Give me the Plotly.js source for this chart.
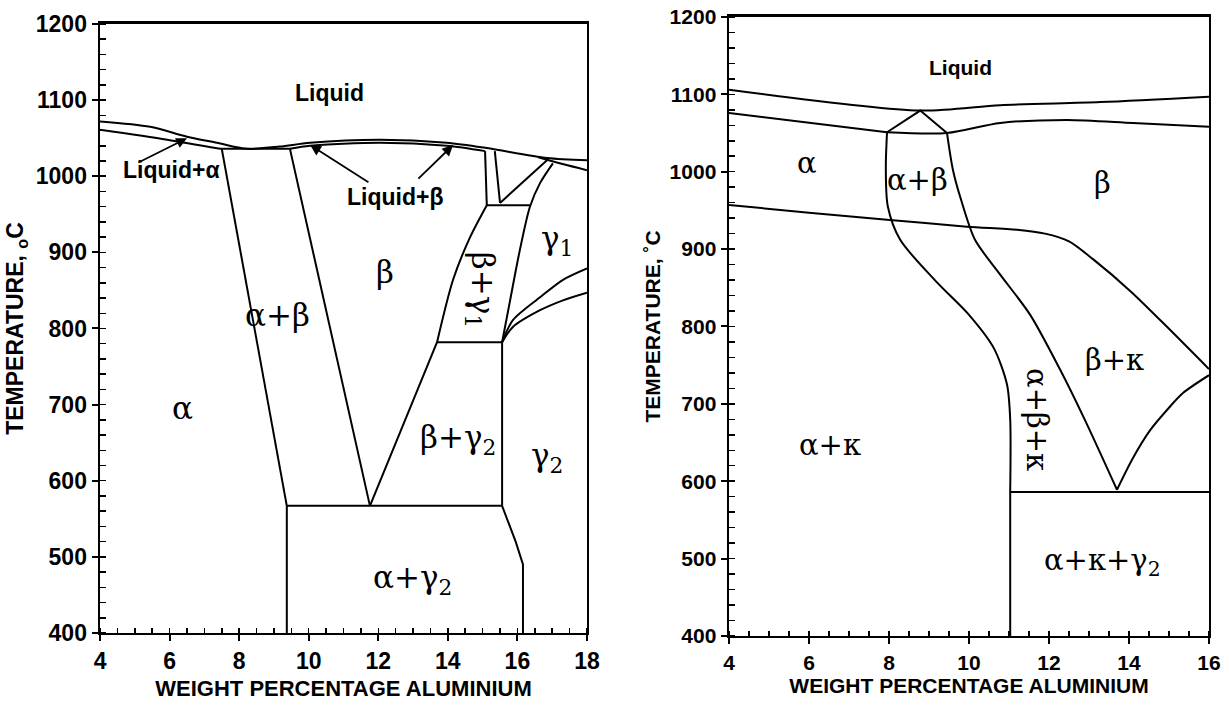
<!DOCTYPE html>
<html>
<head>
<meta charset="utf-8">
<script src="https://cdn.plot.ly/plotly-3.0.1.min.js"></script>
<style>
html,body{margin:0;padding:0;background:#fff;}
#chart{width:1229px;height:725px;}
</style>
</head>
<body>
<div id="chart"></div>
<script>
// ---------- LEFT DIAGRAM (Cu-Al binary) ----------
const L_liquidus_x = [4, 5.44, 6.5, 7.36, 8.22, 9.17, 10.04, 12.05, 13.97, 15.12, 16.85, 18];
const L_liquidus_T = [1072, 1065, 1052, 1044, 1036, 1039, 1044, 1048, 1044, 1037, 1024, 1021];
const L_solidusA_x = [4, 5.93, 7.45];
const L_solidusA_T = [1061, 1048, 1036];
const L_eutectic_x = [7.45, 9.46];
const L_eutectic_T = [1036, 1036];
const L_solidusB_x = [9.46, 10.04, 12.05, 13.97, 15.07];
const L_solidusB_T = [1036, 1040, 1044, 1040, 1033];
const L_abLeft_x = [7.5, 9.37];
const L_abLeft_T = [1036, 567];
const L_abRight_x = [9.46, 11.76];
const L_abRight_T = [1036, 567];
const L_bLow_x = [11.76, 13.69];
const L_bLow_T = [567, 782];
const L_bUp_x = [13.69, 14.15, 14.64, 15.12];
const L_bUp_T = [782, 864, 920, 962];
const L_h782_x = [13.69, 15.56];
const L_h782_T = [782, 782];
const L_h567_x = [9.37, 15.56];
const L_h567_T = [567, 567];
const L_v1556_x = [15.56, 15.56];
const L_v1556_T = [567, 782];
const L_v937_x = [9.37, 9.37];
const L_v937_T = [400, 567];
const L_g2_x = [15.56, 15.95, 16.16, 16.16];
const L_g2_T = [567, 520, 490, 400];
const L_h962_x = [15.12, 16.36];
const L_h962_T = [962, 962];
const L_bg1Right_x = [15.56, 15.79, 16.07, 16.36, 16.65, 17.02];
const L_bg1Right_T = [782, 837, 903, 960, 991, 1017];
const L_vA_x = [15.07, 15.12];
const L_vA_T = [1033, 962];
const L_vB_x = [15.35, 15.5];
const L_vB_T = [1033, 965];
const L_diag_x = [15.5, 16.85];
const L_diag_T = [965, 1021];
const L_topRight_x = [16.6, 17.3, 18];
const L_topRight_T = [1025, 1016, 1008];
const L_g1Up_x = [15.56, 15.87, 16.65, 17.31, 18];
const L_g1Up_T = [782, 811, 841, 864, 879];
const L_g1Low_x = [15.56, 15.87, 16.65, 17.31, 18];
const L_g1Low_T = [782, 802, 824, 837, 847];

// ---------- RIGHT DIAGRAM (Cu-Al-Ni-Fe) ----------
const R_liquidus_x = [4, 8.78, 10.78, 13.28, 16];
const R_liquidus_T = [1106, 1079, 1086, 1090, 1097];
const R_solidusA_x = [4, 7.95];
const R_solidusA_T = [1076, 1051];
const R_solidusB_x = [7.95, 9.45, 10.78, 12.45, 14.1, 16];
const R_solidusB_T = [1051, 1050, 1063, 1067, 1063, 1058];
const R_triangle_x = [7.95, 8.78, 9.45];
const R_triangle_T = [1051, 1079, 1050];
const R_abLeft_x = [7.95, 7.92, 7.97, 8.28, 9.2, 10.0, 10.62, 10.95, 11.03, 11.03];
const R_abLeft_T = [1051, 1005, 955, 912, 857, 815, 772, 725, 680, 586];
const R_vertical_x = [11.03, 11.03];
const R_vertical_T = [586, 400];
const R_abRight_x = [9.45, 9.6, 9.8, 10.15, 10.78, 11.53, 12.28, 12.9, 13.7];
const R_abRight_T = [1050, 1002, 964, 912, 867, 815, 744, 679, 589];
const R_kappa_x = [4, 6, 7.95, 9.95, 11.2, 11.9, 12.5, 13.1, 14.05, 15.0, 16];
const R_kappa_T = [957, 947, 938, 929, 925, 920, 910, 887, 845, 797, 745];
const R_bkLow_x = [13.7, 14.1, 14.53, 15.0, 15.35, 16];
const R_bkLow_T = [589, 630, 666, 695, 714, 737];
const R_h586_x = [11.03, 16];
const R_h586_T = [586, 586];

// ---------- region labels ----------
const L_labels = [
  {t: 'Liquid', x: 10.61, y: 1109, f: 'sans'},
  {t: 'Liquid+α', x: 6.05, y: 1008, f: 'sans'},
  {t: 'Liquid+β', x: 12.48, y: 973, f: 'sans'},
  {t: 'α', x: 6.36, y: 696, f: 'serif'},
  {t: 'α+β', x: 9.09, y: 818, f: 'serif'},
  {t: 'β', x: 12.19, y: 874, f: 'serif'},
  {t: 'β+γ<sub>1</sub>', x: 14.92, y: 851, f: 'serif', a: 90},
  {t: 'γ<sub>1</sub>', x: 17.14, y: 916, f: 'serif'},
  {t: 'β+γ<sub>2</sub>', x: 14.29, y: 654, f: 'serif'},
  {t: 'γ<sub>2</sub>', x: 16.85, y: 631, f: 'serif'},
  {t: 'α+γ<sub>2</sub>', x: 12.97, y: 470, f: 'serif'}
];
const L_arrows = [
  {x: 6.5, y: 1050, ax: 5.06, ay: 1017},
  {x: 10.04, y: 1041, ax: 11.76, ay: 991},
  {x: 14.15, y: 1041, ax: 13.11, ay: 995}
];
const R_labels = [
  {t: 'Liquid', x: 9.78, y: 1135, f: 'sans'},
  {t: 'α', x: 5.95, y: 1011, f: 'serif'},
  {t: 'α+β', x: 8.7, y: 989, f: 'serif'},
  {t: 'β', x: 13.35, y: 986, f: 'serif'},
  {t: 'β+κ', x: 13.65, y: 757, f: 'serif'},
  {t: 'α+β+κ', x: 11.7, y: 679, f: 'serif', a: 90},
  {t: 'α+κ', x: 6.53, y: 647, f: 'serif'},
  {t: 'α+κ+γ<sub>2</sub>', x: 13.35, y: 495, f: 'serif'}
];

const SANS = 'Liberation Sans, Arial, sans-serif';
const SERIF = 'DejaVu Serif, Liberation Serif, serif';

function ln(x, y, ax, spline) {
  return {
    x: x, y: y, mode: 'lines', type: 'scatter', hoverinfo: 'skip',
    xaxis: ax === 2 ? 'x2' : 'x', yaxis: ax === 2 ? 'y2' : 'y',
    line: {color: '#000', width: 2, shape: spline ? 'spline' : 'linear', smoothing: 0.8},
    showlegend: false
  };
}

const traces = [
  ln(L_liquidus_x, L_liquidus_T, 1, true),
  ln(L_solidusA_x, L_solidusA_T, 1, true),
  ln(L_eutectic_x, L_eutectic_T, 1, false),
  ln(L_solidusB_x, L_solidusB_T, 1, true),
  ln(L_abLeft_x, L_abLeft_T, 1, false),
  ln(L_abRight_x, L_abRight_T, 1, false),
  ln(L_bLow_x, L_bLow_T, 1, false),
  ln(L_bUp_x, L_bUp_T, 1, true),
  ln(L_h782_x, L_h782_T, 1, false),
  ln(L_h567_x, L_h567_T, 1, false),
  ln(L_v1556_x, L_v1556_T, 1, false),
  ln(L_v937_x, L_v937_T, 1, false),
  ln(L_g2_x, L_g2_T, 1, false),
  ln(L_h962_x, L_h962_T, 1, false),
  ln(L_bg1Right_x, L_bg1Right_T, 1, true),
  ln(L_vA_x, L_vA_T, 1, false),
  ln(L_vB_x, L_vB_T, 1, false),
  ln(L_diag_x, L_diag_T, 1, false),
  ln(L_topRight_x, L_topRight_T, 1, true),
  ln(L_g1Up_x, L_g1Up_T, 1, true),
  ln(L_g1Low_x, L_g1Low_T, 1, true),

  ln(R_liquidus_x, R_liquidus_T, 2, true),
  ln(R_solidusA_x, R_solidusA_T, 2, false),
  ln(R_solidusB_x, R_solidusB_T, 2, true),
  ln(R_triangle_x, R_triangle_T, 2, false),
  ln(R_abLeft_x, R_abLeft_T, 2, true),
  ln(R_vertical_x, R_vertical_T, 2, false),
  ln(R_abRight_x, R_abRight_T, 2, true),
  ln(R_kappa_x, R_kappa_T, 2, true),
  ln(R_bkLow_x, R_bkLow_T, 2, true),
  ln(R_h586_x, R_h586_T, 2, false)
];

const annotations = [];
function addLabels(list, ax, sansSize, serifSize) {
  list.forEach(l => {
    annotations.push({
      text: l.t, x: l.x, y: l.y,
      xref: ax === 2 ? 'x2' : 'x', yref: ax === 2 ? 'y2' : 'y',
      showarrow: false, textangle: l.a || 0,
      font: l.f === 'sans' ? {family: SANS, size: sansSize, color: '#000', weight: 'bold'}
                           : {family: SERIF, size: serifSize, color: '#000'}
    });
  });
}
addLabels(L_labels, 1, 23, 31);
addLabels(R_labels, 2, 21, 29);
L_arrows.forEach(a => {
  annotations.push({
    text: '', x: a.x, y: a.y, ax: a.ax, ay: a.ay,
    xref: 'x', yref: 'y', axref: 'x', ayref: 'y',
    showarrow: true, arrowhead: 2, arrowsize: 1.2, arrowwidth: 1.8, arrowcolor: '#000'
  });
});

function xAxis(domain, range, anchor, tickSize, titleSize, standoff) {
  return {
    domain: domain, range: range, anchor: anchor, dtick: 2, tick0: 4,
    showline: true, linecolor: '#000', linewidth: 2.5, mirror: true,
    ticks: 'outside', ticklen: 6, tickwidth: 2, tickcolor: '#000',
    minor: {dtick: 0.5, ticks: 'inside', ticklen: 5, tickwidth: 1.5, tickcolor: '#000'},
    showgrid: false, zeroline: false, automargin: false, fixedrange: true,
    tickfont: {family: SANS, size: tickSize, color: '#000', weight: 'bold'},
    title: {text: 'WEIGHT PERCENTAGE ALUMINIUM', standoff: standoff,
            font: {family: SANS, size: titleSize, color: '#000', weight: 'bold'}}
  };
}
function yAxis(domain, anchor, tickSize, titleText, titleSize, standoff) {
  return {
    domain: domain, range: [400, 1200], anchor: anchor, dtick: 100,
    showline: true, linecolor: '#000', linewidth: 2.5, mirror: true,
    ticks: 'outside', ticklen: 6, tickwidth: 2, tickcolor: '#000',
    minor: {dtick: 20, ticks: 'inside', ticklen: 6, tickwidth: 1.5, tickcolor: '#000'},
    showgrid: false, zeroline: false, automargin: false, fixedrange: true,
    tickfont: {family: SANS, size: tickSize, color: '#000', weight: 'bold'},
    title: {text: titleText, standoff: standoff,
            font: {family: SANS, size: titleSize, color: '#000', weight: 'bold'}}
  };
}

const layout = {
  width: 1229, height: 725,
  margin: {l: 0, r: 0, t: 0, b: 0},
  paper_bgcolor: '#fff', plot_bgcolor: '#fff',
  showlegend: false,
  xaxis: xAxis([0.0814, 0.4776], [4, 18], 'y', 23, 22, 8),
  yaxis: yAxis([0.1269, 0.9669], 'x', 23, 'TEMPERATURE, <sub>o</sub>C', 23, 6),
  xaxis2: xAxis([0.5932, 0.9837], [4, 16], 'y2', 21, 21, 0),
  yaxis2: yAxis([0.1228, 0.9766], 'x2', 21, 'TEMPERATURE, ˚C', 21, 4),
  annotations: annotations
};

Plotly.newPlot('chart', traces, layout, {staticPlot: true, displayModeBar: false});
</script>
</body>
</html>
